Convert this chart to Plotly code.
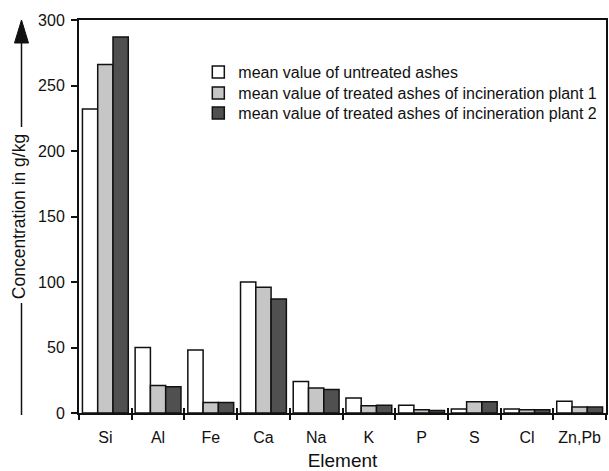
import plotly.graph_objects as go

# Element concentrations in g/kg
elements = ["Si", "Al", "Fe", "Ca", "Na", "K", "P", "S", "Cl", "Zn,Pb"]
untreated = [232, 50, 48, 100, 24, 11.5, 6, 3, 3, 9]
treated_plant1 = [266, 21, 8, 96, 19, 5.5, 2.5, 8.5, 2.5, 4.5]
treated_plant2 = [287, 20, 8, 87, 18, 6, 2, 8.5, 2.5, 4.5]

series_names = [
    "mean value of untreated ashes",
    "mean value of treated ashes of incineration plant 1",
    "mean value of treated ashes of incineration plant 2",
]
series_values = [untreated, treated_plant1, treated_plant2]
series_colors = ["#ffffff", "#c6c6c6", "#505050"]
legend_ids = ["legend", "legend2", "legend3"]

FONT = "Liberation Sans, Arial, Helvetica, sans-serif"
FS = 16

fig = go.Figure()
for name, vals, col, lg in zip(series_names, series_values, series_colors, legend_ids):
    fig.add_trace(go.Bar(
        x=elements, y=vals, name=name, legend=lg,
        marker=dict(color=col, line=dict(color="#111111", width=1.5)),
    ))

# invisible helper trace so the overlay axis can draw inward tick marks
fig.add_trace(go.Scatter(
    x=elements, y=untreated, xaxis="x2", mode="markers",
    marker=dict(opacity=0), showlegend=False, hoverinfo="skip",
))

# one legend per series so the rows sit closely stacked
legend_rows_y = [0.8677, 0.8142, 0.7634]
legend_common = dict(x=0.2264, xanchor="left", yanchor="middle",
                     bgcolor="rgba(0,0,0,0)", font=dict(size=FS, family=FONT))

fig.update_layout(
    width=609, height=471,
    margin=dict(l=79, r=1, t=20, b=58),
    paper_bgcolor="white", plot_bgcolor="white",
    font=dict(family=FONT, size=FS, color="#111111"),
    barmode="group", bargap=0.13, bargroupgap=0,
    showlegend=True,
    legend=dict(y=legend_rows_y[0], **legend_common),
    legend2=dict(y=legend_rows_y[1], **legend_common),
    legend3=dict(y=legend_rows_y[2], **legend_common),
    xaxis=dict(
        categoryorder="array", categoryarray=elements, range=[-0.5, 9.5],
        showline=True, linecolor="#111111", linewidth=2, mirror=True,
        ticks="outside", tickson="boundaries", ticklen=5, tickwidth=1.5,
        tickcolor="#111111", showgrid=False, ticklabelstandoff=9,
        title=dict(text="Element", standoff=10),
    ),
    xaxis2=dict(
        overlaying="x", matches="x", categoryorder="array",
        categoryarray=elements, range=[-0.5, 9.5],
        ticks="inside", tickson="boundaries", ticklen=5, tickwidth=1.5,
        tickcolor="#111111", showticklabels=False, showgrid=False,
        showline=False, side="bottom", anchor="y",
    ),
    yaxis=dict(
        range=[0, 300], dtick=50, tick0=0,
        showline=True, linecolor="#111111", linewidth=2, mirror=True,
        ticks="outside", ticklen=6, tickwidth=1.5, tickcolor="#111111",
        showgrid=False, zeroline=False, ticklabelstandoff=3,
        title=dict(text="Concentration in g/kg", standoff=8,
                   font=dict(size=17.5)),
    ),
)

# arrow running along the y-axis title (pixel offsets from the plot's lower-left corner)
arrow_x = -57.5
fig.add_shape(type="line", xref="paper", yref="paper",
              xsizemode="pixel", ysizemode="pixel", xanchor=0, yanchor=0,
              x0=arrow_x, x1=arrow_x, y0=-2, y1=110,
              line=dict(color="#111111", width=1.5))
fig.add_shape(type="line", xref="paper", yref="paper",
              xsizemode="pixel", ysizemode="pixel", xanchor=0, yanchor=0,
              x0=arrow_x, x1=arrow_x, y0=286, y1=372,
              line=dict(color="#111111", width=1.5))
fig.add_shape(type="path", xref="paper", yref="paper",
              xsizemode="pixel", ysizemode="pixel", xanchor=0, yanchor=0,
              path=f"M {arrow_x-7},370 L {arrow_x+7},370 L {arrow_x},393 Z",
              fillcolor="#111111", line=dict(color="#111111", width=1))

fig.write_html("out.html")
